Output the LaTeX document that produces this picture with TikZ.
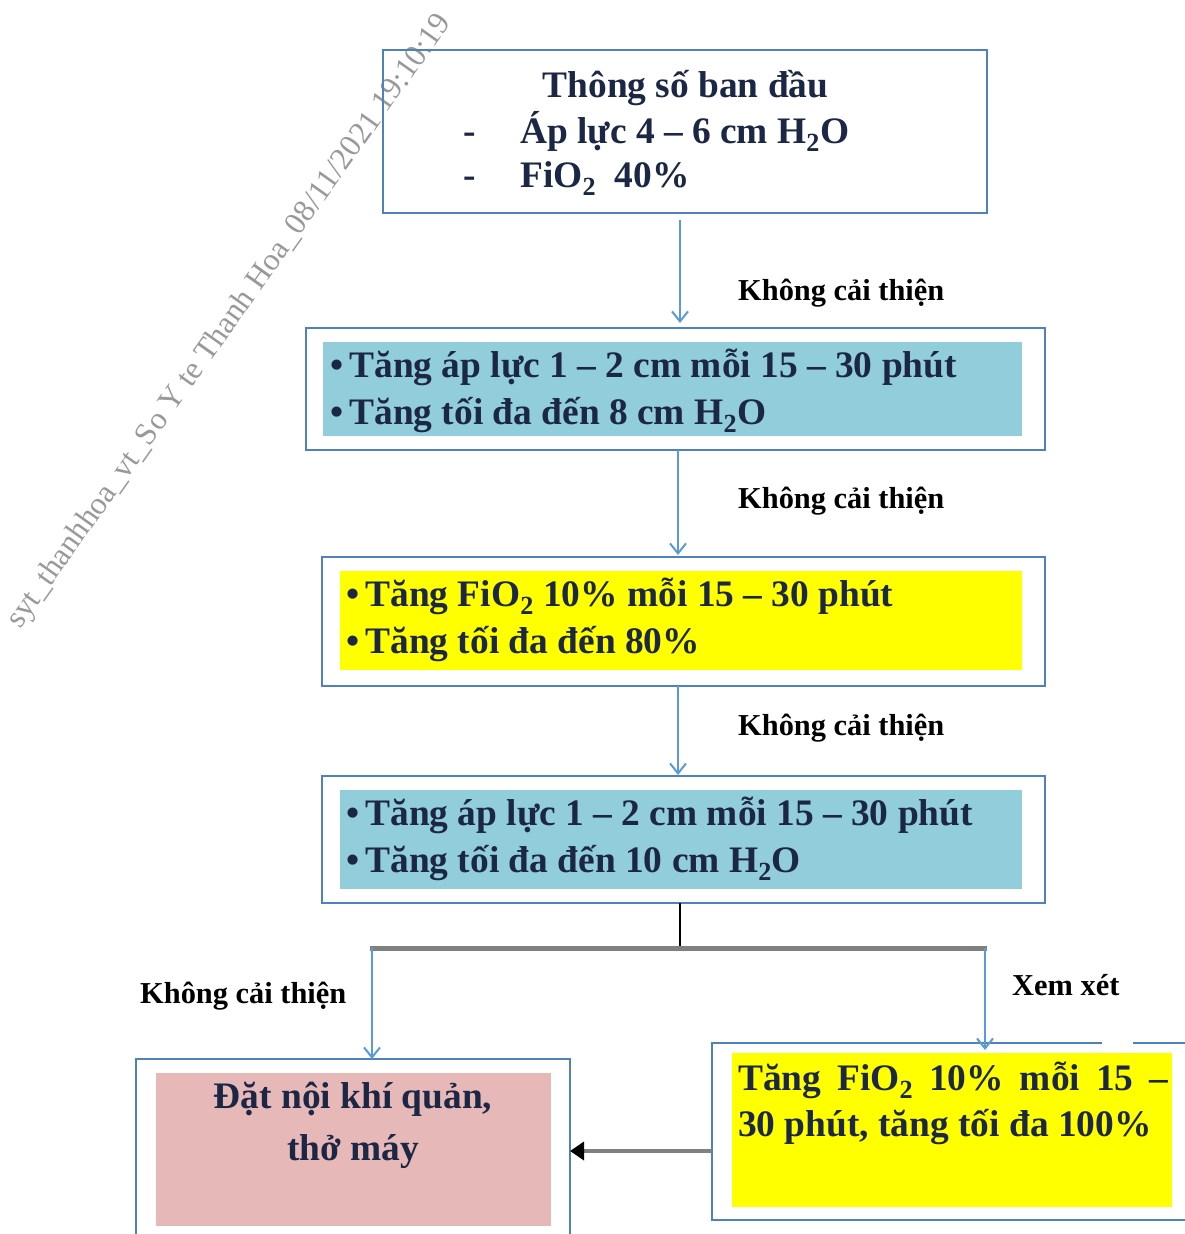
\documentclass[tikz,border=0pt]{standalone}
\usepackage{fontspec}
\setmainfont{Liberation Serif}
\usetikzlibrary{arrows.meta}
\definecolor{boxblue}{HTML}{4F81BD}
\definecolor{flowblue}{HTML}{5B9BD5}
\definecolor{aqua}{HTML}{92CDDC}
\definecolor{pinkfill}{HTML}{E6B9B8}
\definecolor{navy}{HTML}{1C2745}
\definecolor{brightyellow}{rgb}{1,1,0}
\tikzset{
    frame/.style={draw=boxblue, line width=2pt, inner sep=0pt, outer sep=0pt},
    boxtext/.style={font=\fontsize{37.4}{44}\selectfont\bfseries, text=navy, inner sep=0pt},
    note/.style={font=\fontsize{30.4}{36}\selectfont\bfseries, text=black, inner sep=0pt},
    flow/.style={draw=flowblue, line width=2pt, -{Straight Barb[length=10pt,width=16pt]}},
    trunk/.style={draw=black, line width=2pt},
    branch/.style={draw=black!50, line width=5pt},
    back/.style={draw=black!50, line width=4pt, -{Triangle[black,length=14pt,width=18pt]}},
    watermark/.style={font=\fontsize{31.5}{38}\selectfont, text=black!40, inner sep=0pt}
}

\begin{document}
\begin{tikzpicture}[x=1pt, y=-1pt]
    % Init
    \useasboundingbox (0,0) rectangle (1184,1234);
    \node[watermark, rotate=54.6, anchor=base west] (wm) at (20,630)
        {syt\_thanhhoa\_vt\_So Y te Thanh Hoa\_08/11/2021 19:10:19};
    % 1. fills
    \fill[aqua] (323,342) rectangle (1022,436);
    \fill[brightyellow] (340,571) rectangle (1022,670);
    \fill[aqua] (340,790) rectangle (1022,889);
    \fill[pinkfill] (156,1073) rectangle (551,1226);
    \fill[brightyellow] (732,1053) rectangle (1172,1207);
    % 2. boxes
    \node[frame, minimum width=604, minimum height=163] (init) at (685,131.5) {};
    \node[frame, minimum width=739, minimum height=122] (tang1) at (675.5,389) {};
    \node[frame, minimum width=723, minimum height=129] (fio1) at (683.5,621.5) {};
    \node[frame, minimum width=723, minimum height=127] (tang2) at (683.5,839.5) {};
    \node[frame, minimum width=434, minimum height=184] (intub) at (353,1151) {};
    \node[frame, minimum width=488, minimum height=177] (fio2) at (956,1131.5) {};
    \fill[white] (1102,1038) rectangle (1133,1048);
    % 3. texts
    \node[boxtext, anchor=base] (t0) at (685.5,97) {Thông số ban đầu};
    \node[boxtext, anchor=base] (d1) at (470,143) {-};
    \node[boxtext, anchor=base west] (t01) at (520,143) {Áp lực 4 – 6 cm H\textsubscript{2}O};
    \node[boxtext, anchor=base] (d2) at (470,187) {-};
    \node[boxtext, anchor=base west] (t02) at (520,187) {FiO\textsubscript{2}\ \ 40\%};
    \node[boxtext, anchor=base west] (t11) at (330,377) {\textbullet\,Tăng áp lực 1 – 2 cm mỗi 15 – 30 phút};
    \node[boxtext, anchor=base west] (t12) at (330,424) {\textbullet\,Tăng tối đa đến 8 cm H\textsubscript{2}O};
    \node[boxtext, anchor=base west] (t21) at (346,606) {\textbullet\,Tăng FiO\textsubscript{2} 10\% mỗi 15 – 30 phút};
    \node[boxtext, anchor=base west] (t22) at (346,653) {\textbullet\,Tăng tối đa đến 80\%};
    \node[boxtext, anchor=base west] (t31) at (346,825) {\textbullet\,Tăng áp lực 1 – 2 cm mỗi 15 – 30 phút};
    \node[boxtext, anchor=base west] (t32) at (346,872) {\textbullet\,Tăng tối đa đến 10 cm H\textsubscript{2}O};
    \node[boxtext, anchor=base] (t41) at (353,1108) {Đặt nội khí quản,};
    \node[boxtext, anchor=base] (t42) at (353,1160) {thở máy};
    \node[boxtext, anchor=base west] (t51) at (738,1090)
        {\makebox[430pt][s]{Tăng FiO\textsubscript{2} 10\% mỗi 15 –}};
    \node[boxtext, anchor=base west] (t52) at (738,1136) {30 phút, tăng tối đa 100\%};
    % 4. arrows
    \draw[flow] ([xshift=-5pt]init.south) ++(0,7) -- ([xshift=4.5pt,yshift=5pt]tang1.north);
    \draw[flow] ([xshift=2.5pt]tang1.south) -- ([xshift=-5.5pt,yshift=2pt]fio1.north);
    \draw[flow] ([xshift=-5.5pt]fio1.south) -- ([xshift=-5.5pt,yshift=1pt]tang2.north);
    \node[note, anchor=base west] (n1) at (738,300) {Không cải thiện};
    \node[note, anchor=base west] (n2) at (738,508) {Không cải thiện};
    \node[note, anchor=base west] (n3) at (738,735) {Không cải thiện};
    % 5. split
    \coordinate (split) at (680,948);
    \coordinate (lsplit) at (372,948);
    \coordinate (rsplit) at (985,948);
    \draw[trunk] ([xshift=-3.5pt]tang2.south) -- (split);
    \draw[branch] ([xshift=-2pt]lsplit) -- ([xshift=2pt]rsplit);
    \draw[flow] (lsplit) -- (intub.north -| lsplit);
    \draw[flow] (rsplit) -- ([yshift=-7pt]fio2.north -| rsplit);
    \node[note, anchor=base west] (n4) at (140,1003) {Không cải thiện};
    \node[note, anchor=base west] (n5) at (1012,995) {Xem xét};
    \draw[back] (intub.east -| fio2.west) -- (intub.east);
\end{tikzpicture}
\end{document}
